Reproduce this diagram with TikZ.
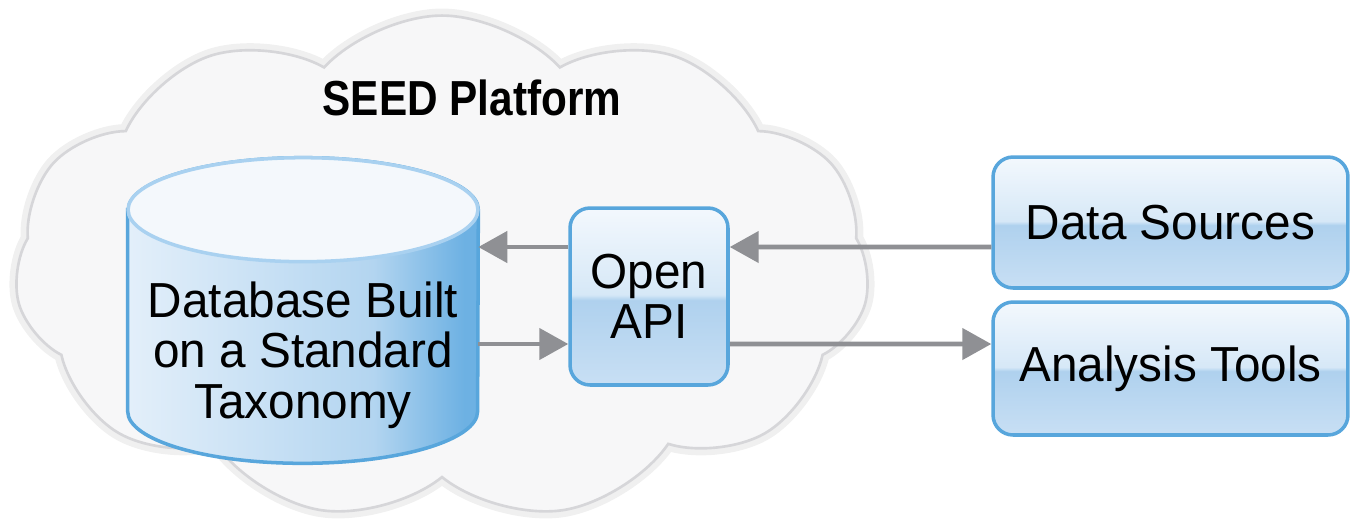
\documentclass[tikz,border=0pt]{standalone}
\usepackage{fontspec}
\setmainfont{Liberation Sans}[FakeStretch=0.97]
\newfontfamily\titlefont{Liberation Sans}[FakeStretch=0.86]
\usetikzlibrary{shapes.symbols,arrows.meta}

\definecolor{cloudfill}{HTML}{F7F7F8}
\definecolor{cloudedge}{HTML}{D6D6D9}
\definecolor{boxedge}{HTML}{58A6DC}
\definecolor{boxtop}{HTML}{F3F8FD}
\definecolor{boxmid}{HTML}{D6E8F7}
\definecolor{boxlow}{HTML}{AFD1EE}
\definecolor{boxbottom}{HTML}{C8DFF4}
\definecolor{tubeleft}{HTML}{E3EFFA}
\definecolor{tubemid}{HTML}{B3D5F0}
\definecolor{tuberight}{HTML}{6DB1E3}
\definecolor{lidfill}{HTML}{F4F8FC}
\definecolor{lidedge}{HTML}{A9D1F0}
\definecolor{arrowgray}{HTML}{8F9094}

\pgfdeclareverticalshading{glossy}{100bp}{color(0bp)=(boxbottom); color(25bp)=(boxbottom); color(49bp)=(boxlow); color(50.5bp)=(boxmid); color(75bp)=(boxtop); color(100bp)=(boxtop)}
\pgfdeclarehorizontalshading{tube}{100bp}{color(0bp)=(tubeleft); color(25bp)=(tubeleft); color(60bp)=(tubemid); color(73bp)=(tuberight); color(100bp)=(tuberight)}

\def \boxRound {0.4cm}
\def \lidRx {3.5cm}
\def \lidRy {1.04cm}
\def \bodyFont {\fontsize{28}{28.7}\selectfont}

\begin{document}
\begin{tikzpicture}[x=0.02cm, y=-0.02cm,
    tile/.style={rounded corners=\boxRound, draw=boxedge, line width=2pt, shading=glossy, align=center, inner sep=0pt, font=\bodyFont},
    flow/.style={draw=arrowgray, line width=2.6pt, -{Triangle[width=0.62cm, length=0.58cm]}}]
   \useasboundingbox (0,0) rectangle (1351,525);
   \node[cloud, cloud puffs=11, cloud puff arc=95, cloud ignores aspect, minimum width=17.1cm, minimum height=10.1cm, fill=cloudfill, draw=cloudedge, line width=1.5pt, preaction={draw=black!6, line width=8pt}] (cloud) at (442,268) {};
   \node[font=\titlefont\bfseries\fontsize{28}{30}\selectfont] (title) at (472,98) {SEED Platform};
   \node[minimum width=7cm, minimum height=6.1cm, inner sep=0pt] (db) at (303,310.5) {};
   \draw[shading=tube, draw=boxedge, line width=2pt] ([yshift=-\lidRy]db.north west) -- ([yshift=\lidRy]db.south west)
      arc[start angle=180, end angle=360, x radius=\lidRx, y radius=\lidRy] -- ([yshift=-\lidRy]db.north east)
      arc[start angle=0, end angle=180, x radius=\lidRx, y radius=\lidRy] -- cycle;
   \draw[fill=lidfill, draw=lidedge, line width=2pt] ([yshift=-\lidRy]db.north) ellipse[x radius=\lidRx, y radius=\lidRy];
   \node[align=center, font=\bodyFont] (dblabel) at (303,355) {Database Built\\on a Standard\\Taxonomy};
   \node[tile, minimum width=3.16cm, minimum height=3.54cm] (api) at (649,296.5) {Open\\API};
   \node[tile, minimum width=7.1cm, minimum height=2.62cm] (ds) at (1170.5,222.5) {Data Sources};
   \node[tile, minimum width=7.1cm, minimum height=2.66cm] (at) at (1170.5,368.5) {Analysis Tools};
   \coordinate (upper) at ([yshift=0.99cm]api.west);
   \coordinate (lower) at ([yshift=-0.95cm]api.west);
   \draw[flow] (upper) -- (upper -| db.east);
   \draw[flow] ([yshift=-0.49cm]ds.west) -- ([yshift=0.99cm]api.east);
   \draw[flow] (lower -| db.east) -- (lower);
   \draw[flow] ([yshift=-0.95cm]api.east) -- ([yshift=0.49cm]at.west);
\end{tikzpicture}
\end{document}
